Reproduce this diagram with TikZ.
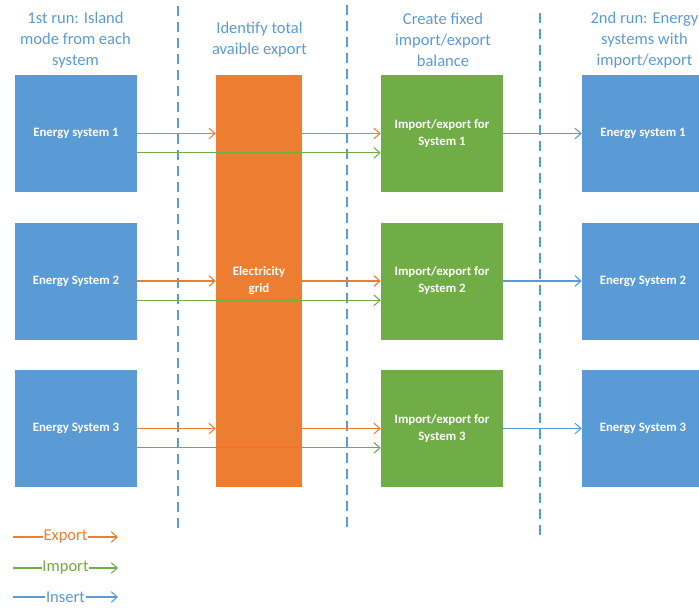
\documentclass[tikz,border=0pt]{standalone}
\usepackage{fontspec}
\setmainfont{Carlito}
\usepackage{tikz}
\usetikzlibrary{arrows.meta,positioning,calc}

\definecolor{sysblue}{HTML}{5B9BD5}
\definecolor{gridorange}{HTML}{ED7D31}
\definecolor{fixgreen}{HTML}{70AD47}

\tikzset{
  box/.style={rectangle,minimum width=91.5pt,minimum height=87.75pt,inner sep=0pt,
    text=white,align=center,font=\fontsize{9.6}{12.75}\selectfont\bfseries},
  header/.style={text=sysblue,align=center,font=\fontsize{12.4}{15.75}\selectfont},
  phase/.style={sysblue,line width=1.1pt,dash pattern=on 7.5pt off 4.5pt},
  flow/.style={line width=0.8pt,-{Straight Barb[length=4.5pt,width=8pt]}},
  legend/.style={fill=white,inner sep=0.5pt,font=\fontsize{12.4}{15}\selectfont}
}

\begin{document}
\begin{tikzpicture}[x=0.75pt,y=-0.75pt]
\useasboundingbox (0,0) rectangle (699,608);
\clip (0,0) rectangle (699,608);
% phase separators
\draw[phase] (178,6) -- (178,531);
\draw[phase] (347,5) -- (347,527);
\draw[phase] (540,13) -- (540,540);
% headers
\node[header](h1) at (75.5,40) {1st run: Island\\mode from each\\system};
\node[header](h2) at (259.5,40) {Identify total\\avaible export};
\node[header](h3) at (443,40) {Create fixed\\import/export\\balance};
\node[header](h4) at (644.5,40) {2nd run: Energy\\systems with\\import/export};
% first run
\node[box,fill=sysblue](es1) at (76,133.5) {Energy system 1};
\node[box,fill=sysblue](es2) at (76,281) {Energy System 2};
\node[box,fill=sysblue](es3) at (76,428.5) {Energy System 3};
% grid
\node[box,fill=gridorange,minimum width=64.5pt,minimum height=309pt](grid) at (259,281) {Electricity\\grid};
% fixed balance
\node[box,fill=fixgreen](fix1) at (442,133.5) {Import/export for\\System 1};
\node[box,fill=fixgreen](fix2) at (442,281) {Import/export for\\System 2};
\node[box,fill=fixgreen](fix3) at (442,428.5) {Import/export for\\System 3};
% second run
\node[box,fill=sysblue](rs1) at (643,133.5) {Energy system 1};
\node[box,fill=sysblue](rs2) at (643,281) {Energy System 2};
\node[box,fill=sysblue](rs3) at (643,428.5) {Energy System 3};
% flows
\foreach \i in {1,2,3}{
  \draw[flow,gridorange] (es\i.east) -- (es\i.east -| grid.west);
  \draw[flow,gridorange] (es\i.east -| grid.east) -- (fix\i.west);
  \draw[flow,fixgreen] ([yshift=-14.5pt]es\i.east) -- ([yshift=-14.5pt]fix\i.west);
  \draw[flow,sysblue] (fix\i.east) -- (rs\i.west);
}
% legend
\coordinate (ex0) at (13,537); \coordinate (ex1) at (118,537);
\coordinate (im0) at (13,568); \coordinate (im1) at (118,568);
\coordinate (in0) at (13,597); \coordinate (in1) at (118,597);
\draw[flow,gridorange] (ex0) -- node[legend,text=gridorange](lex){Export} (ex1);
\draw[flow,fixgreen] (im0) -- node[legend,text=fixgreen](lim){Import} (im1);
\draw[flow,sysblue] (in0) -- node[legend,text=sysblue](lin){Insert} (in1);
\end{tikzpicture}
\end{document}
